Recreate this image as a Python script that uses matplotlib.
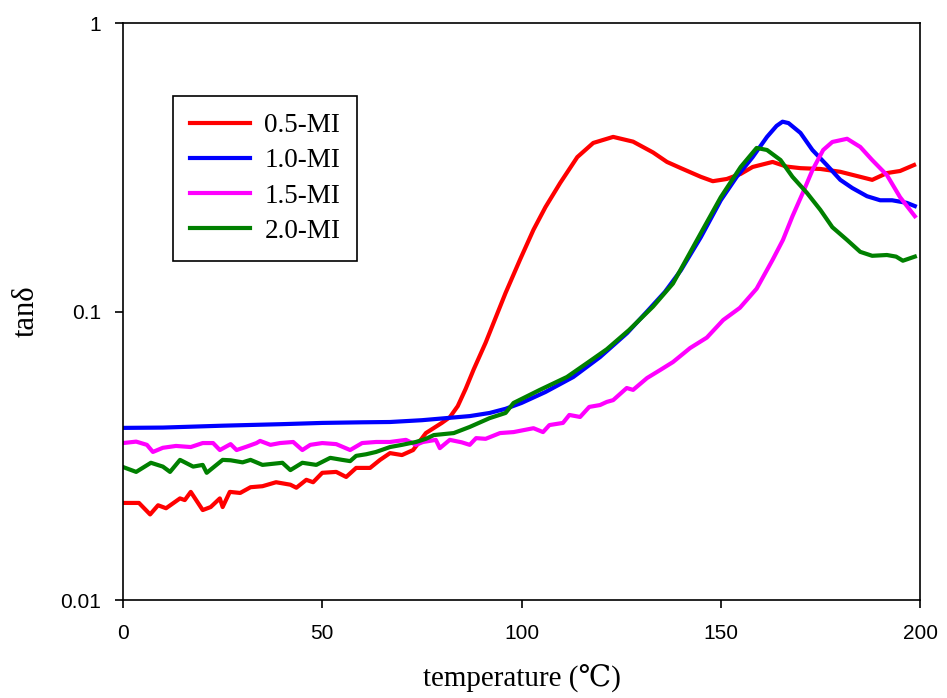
import matplotlib
matplotlib.use('Agg')
import matplotlib.pyplot as plt
from matplotlib.ticker import FixedLocator, FixedFormatter, NullLocator

# 0.5-MI
t_05 = [0, 2, 4, 6.8, 8.8, 10.8, 14.3, 15.5, 17, 20, 22, 24.3, 25, 26.8, 29.4, 32, 35, 38.4, 42, 43.5,
        46, 47.7, 50, 53.5, 56, 58.5, 62, 64.5, 67, 70, 72.8, 76, 80, 82, 84, 86, 88, 91, 94, 96,
        99.6, 103, 106, 109.7, 114, 118, 123, 128, 133, 136.5, 140, 145, 148, 151.5, 155, 158, 163,
        166.5, 170, 175, 180, 185, 188, 191.7, 195, 198.5]
v_05 = [0.0217, 0.0217, 0.0217, 0.0198, 0.0213, 0.0208, 0.0225, 0.0222, 0.0237, 0.0205, 0.0210,
        0.0225, 0.0210, 0.0237, 0.0235, 0.0246, 0.0248, 0.0256, 0.0251, 0.0245, 0.0261, 0.0256,
        0.0276, 0.0278, 0.0267, 0.0287, 0.0287, 0.0306, 0.0323, 0.0318, 0.0331, 0.0379, 0.0411,
        0.0430, 0.0470, 0.0540, 0.0630, 0.0780, 0.0990, 0.116, 0.151, 0.192, 0.230, 0.279, 0.343,
        0.384, 0.403, 0.388, 0.356, 0.330, 0.314, 0.293, 0.283, 0.288, 0.300, 0.317, 0.330, 0.318,
        0.314, 0.312, 0.305, 0.293, 0.286, 0.302, 0.307, 0.322]

# 1.0-MI
t_10 = [0, 10, 25, 40, 50, 60, 67, 75, 83.6, 87, 92, 96, 100, 106, 113, 119.7, 126.5, 131.5, 136,
        140, 145, 150, 154, 158, 161.6, 164, 165.5, 167, 170, 173, 176.6, 180, 183, 186.7, 190, 193,
        196.7, 198.7]
v_10 = [0.0395, 0.0396, 0.0402, 0.0407, 0.0411, 0.0413, 0.0414, 0.0420, 0.0430, 0.0434, 0.0445,
        0.0460, 0.0482, 0.0526, 0.0593, 0.0695, 0.0842, 0.100, 0.117, 0.139, 0.181, 0.243, 0.293,
        0.343, 0.403, 0.440, 0.455, 0.450, 0.416, 0.363, 0.322, 0.286, 0.268, 0.251, 0.243, 0.243,
        0.238, 0.232]

# 1.5-MI
t_15 = [0, 3.3, 6, 7.5, 10, 13.3, 17, 20, 22.6, 24.3, 27, 28.5, 31, 33.5, 34.4, 37, 39.4, 42.7, 45,
        47, 50, 53.5, 57, 60, 63.5, 67, 71, 73.5, 75.3, 78.5, 79.5, 82, 85, 87, 88.6, 91, 94.6, 98,
        103, 105.4, 107, 110.4, 112, 114.7, 117, 119.7, 121.4, 123, 126.4, 128, 131.5, 134.8, 138,
        142.3, 146.5, 150.6, 154.8, 159, 163, 165.6, 168, 170.6, 173, 175.7, 178, 181.7, 185, 188,
        191.7, 195, 198.7]
v_15 = [0.0350, 0.0354, 0.0345, 0.0326, 0.0337, 0.0342, 0.0339, 0.0350, 0.0350, 0.0331, 0.0347,
        0.0331, 0.0340, 0.0350, 0.0356, 0.0345, 0.0350, 0.0353, 0.0331, 0.0345, 0.0350, 0.0347,
        0.0331, 0.0350, 0.0353, 0.0353, 0.0359, 0.0345, 0.0353, 0.0359, 0.0336, 0.0359, 0.0352,
        0.0345, 0.0364, 0.0362, 0.0379, 0.0382, 0.0394, 0.0382, 0.0404, 0.0411, 0.0438, 0.0431,
        0.0467, 0.0474, 0.0486, 0.0493, 0.0543, 0.0535, 0.0588, 0.0627, 0.0668, 0.0747, 0.0812,
        0.0934, 0.103, 0.120, 0.151, 0.177, 0.214, 0.258, 0.309, 0.363, 0.387, 0.397, 0.372, 0.335,
        0.297, 0.249, 0.214]

# 2.0-MI
t_20 = [0, 3.3, 7, 10, 11.8, 14.3, 17.6, 20, 21, 25, 27, 30, 32, 35, 38, 40, 42, 45, 48.5, 52, 55,
        57, 58.5, 61, 63.5, 67, 70, 73.5, 76, 78, 83, 87, 92, 96, 98, 104.6, 111.4, 116.4, 121.4,
        127, 133, 138, 145, 150, 155, 159, 161.6, 165, 168, 171.6, 175, 178, 181.7, 185, 188, 191.7,
        194, 195.7, 198.7]
v_20 = [0.0289, 0.0278, 0.0299, 0.0290, 0.0278, 0.0306, 0.0290, 0.0294, 0.0276, 0.0306, 0.0305,
        0.0300, 0.0306, 0.0294, 0.0297, 0.0299, 0.0282, 0.0299, 0.0294, 0.0311, 0.0306, 0.0303,
        0.0316, 0.0320, 0.0326, 0.0339, 0.0345, 0.0353, 0.0362, 0.0373, 0.0379, 0.0398, 0.0427,
        0.0445, 0.0482, 0.0535, 0.0593, 0.0662, 0.0740, 0.0863, 0.104, 0.125, 0.187, 0.249, 0.317,
        0.369, 0.363, 0.335, 0.293, 0.258, 0.225, 0.196, 0.177, 0.161, 0.156, 0.157, 0.155, 0.150,
        0.155]

SERIES = [('0.5-MI', t_05, v_05, '#ff0000'),
          ('1.0-MI', t_10, v_10, '#0000ff'),
          ('1.5-MI', t_15, v_15, '#ff00ff'),
          ('2.0-MI', t_20, v_20, '#008000')]

SANS = ['Liberation Sans', 'DejaVu Sans']
SERIF = ['Liberation Serif', 'DejaVu Serif']

fig = plt.figure(figsize=(9.47, 6.98), dpi=100)
ax = fig.add_axes([0.1299, 0.1404, 0.8416, 0.8266])

for label, t, v, c in SERIES:
    ax.plot(t, v, color=c, lw=3, label=label)

ax.set_yscale('log')
ax.set_xlim(0, 200)
ax.set_ylim(0.01, 1)
ax.xaxis.set_major_locator(FixedLocator([0, 50, 100, 150, 200]))
ax.yaxis.set_major_locator(FixedLocator([0.01, 0.1, 1]))
ax.yaxis.set_major_formatter(FixedFormatter(['0.01', '0.1', '1']))
ax.yaxis.set_minor_locator(NullLocator())
ax.tick_params(direction='out', length=6, width=1.2, labelsize=15)
ax.tick_params(axis='y', pad=10)
ax.tick_params(axis='x', pad=11)
for lab in ax.get_xticklabels() + ax.get_yticklabels():
    lab.set_family(SANS)
for s in ax.spines.values():
    s.set_linewidth(1.2)

ax.set_xlabel('temperature (℃)', family=SERIF, fontsize=21, labelpad=16)
ax.set_ylabel('tanδ', family=SERIF, fontsize=22, labelpad=14)

leg = ax.legend(loc='upper left', bbox_to_anchor=(0.063, 0.873), borderaxespad=0,
                prop={'family': SERIF, 'size': 19.5}, handlelength=2.2, labelspacing=0.38,
                borderpad=0.62, handletextpad=0.55, fancybox=False, framealpha=1)
leg.get_frame().set_edgecolor('black')
leg.get_frame().set_linewidth(1.2)

fig.savefig('out.png', dpi=100)
